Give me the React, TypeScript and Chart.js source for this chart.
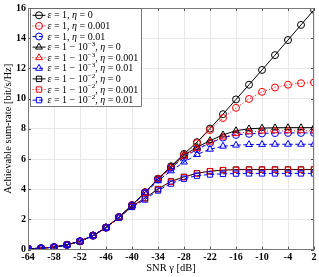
import React, { useEffect, useRef } from 'react';
import { Chart, registerables } from 'chart.js';

Chart.register(...registerables);

const snrDb = [-64, -61, -58, -55, -52, -49, -46, -43, -40, -37, -34, -31, -28, -25, -22, -19, -16, -13, -10, -7, -4, -1, 2];
const xTicks = [-64, -58, -52, -46, -40, -34, -28, -22, -16, -10, -4, 2];
const yTicks = [0, 2, 4, 6, 8, 10, 12, 14, 16];

const eps1Eta0 = [0.06, 0.10, 0.17, 0.32, 0.56, 0.93, 1.46, 2.16, 2.95, 3.80, 4.70, 5.52, 6.34, 7.12, 8.02, 8.97, 9.95, 10.92, 11.90, 12.88, 13.88, 14.88, 15.88];
const eps1Eta0001 = [0.06, 0.10, 0.17, 0.32, 0.56, 0.93, 1.46, 2.16, 2.95, 3.80, 4.69, 5.45, 6.26, 7.05, 7.92, 8.72, 9.39, 9.98, 10.45, 10.74, 10.92, 11.02, 11.07];
const eps1Eta001 = [0.06, 0.10, 0.17, 0.32, 0.56, 0.93, 1.46, 2.16, 2.94, 3.78, 4.65, 5.42, 6.10, 6.65, 7.05, 7.42, 7.60, 7.67, 7.70, 7.72, 7.73, 7.73, 7.73];
const eps3Eta0 = [0.06, 0.10, 0.17, 0.32, 0.56, 0.93, 1.46, 2.16, 2.95, 3.79, 4.68, 5.50, 6.25, 6.78, 7.22, 7.60, 7.88, 8.00, 8.05, 8.07, 8.08, 8.08, 8.08];
const eps3Eta0001 = [0.06, 0.10, 0.17, 0.32, 0.56, 0.93, 1.46, 2.16, 2.95, 3.79, 4.67, 5.45, 6.18, 6.70, 7.12, 7.45, 7.68, 7.80, 7.85, 7.87, 7.87, 7.87, 7.87];
const eps3Eta001 = [0.06, 0.10, 0.17, 0.32, 0.56, 0.93, 1.46, 2.15, 2.93, 3.75, 4.56, 5.22, 5.80, 6.30, 6.65, 6.85, 6.92, 6.96, 6.97, 6.98, 6.98, 6.98, 6.98];
const eps2Eta0 = [0.06, 0.10, 0.17, 0.32, 0.56, 0.93, 1.46, 2.14, 2.87, 3.42, 4.02, 4.52, 4.82, 5.06, 5.20, 5.27, 5.30, 5.31, 5.31, 5.31, 5.31, 5.31, 5.31];
const eps2Eta0001 = [0.06, 0.10, 0.17, 0.32, 0.56, 0.93, 1.46, 2.14, 2.86, 3.40, 4.00, 4.50, 4.80, 5.05, 5.19, 5.26, 5.29, 5.30, 5.30, 5.30, 5.30, 5.30, 5.30];
const eps2Eta001 = [0.06, 0.10, 0.17, 0.32, 0.56, 0.93, 1.46, 2.13, 2.83, 3.32, 3.92, 4.38, 4.70, 4.90, 4.98, 5.02, 5.04, 5.05, 5.05, 5.05, 5.05, 5.05, 5.05];

const seriesLabels = [
  'ε = 1, η = 0',
  'ε = 1, η = 0.001',
  'ε = 1, η = 0.01',
  'ε = 1 − 10^−3, η = 0',
  'ε = 1 − 10^−3, η = 0.001',
  'ε = 1 − 10^−3, η = 0.01',
  'ε = 1 − 10^−2, η = 0',
  'ε = 1 − 10^−2, η = 0.001',
  'ε = 1 − 10^−2, η = 0.01',
];
const seriesData = [eps1Eta0, eps1Eta0001, eps1Eta001, eps3Eta0, eps3Eta0001, eps3Eta001, eps2Eta0, eps2Eta0001, eps2Eta001];
const seriesColors = ['#000000', '#ff0000', '#0000ff', '#000000', '#ff0000', '#0000ff', '#000000', '#ff0000', '#0000ff'];
const seriesDash = [[], [1, 2], [4, 2.5], [], [1, 2], [4, 2.5], [], [1, 2], [4, 2.5]];
const seriesMarker = ['circle', 'circle', 'circle', 'triangle', 'triangle', 'triangle', 'rect', 'rect', 'rect'];
const markerRadius: Record<string, number> = { circle: 3.5, triangle: 3.9, rect: 3.8 };

const SERIF = '"Liberation Serif", "Times New Roman", serif';

function drawMarker(ctx: CanvasRenderingContext2D, style: string, x: number, y: number, r: number) {
  ctx.beginPath();
  if (style === 'circle') {
    ctx.arc(x, y, r, 0, Math.PI * 2);
  } else if (style === 'triangle') {
    const a = -Math.PI / 2;
    for (let k = 0; k < 3; k++) {
      const ang = a + (k * 2 * Math.PI) / 3;
      const px = x + Math.cos(ang) * r;
      const py = y + Math.sin(ang) * r;
      if (k === 0) ctx.moveTo(px, py); else ctx.lineTo(px, py);
    }
    ctx.closePath();
  } else {
    const s = r * Math.SQRT1_2;
    ctx.rect(x - s, y - s, 2 * s, 2 * s);
  }
  ctx.stroke();
}

type Seg = { t: string; kind: 'n' | 'i' | 's' };
function parseLabel(label: string): Seg[] {
  const segs: Seg[] = [];
  let i = 0;
  let buf = '';
  const flush = () => { if (buf) { segs.push({ t: buf, kind: 'n' }); buf = ''; } };
  while (i < label.length) {
    const c = label[i];
    if (c === 'ε' || c === 'η') {
      flush();
      segs.push({ t: c, kind: 'i' });
      i++;
    } else if (c === '^') {
      flush();
      let j = i + 1;
      let sup = '';
      while (j < label.length && label[j] !== ',') { sup += label[j]; j++; }
      segs.push({ t: sup, kind: 's' });
      i = j;
    } else {
      buf += c;
      i++;
    }
  }
  flush();
  return segs;
}

const FS = 10;
function segFont(kind: string) {
  if (kind === 'i') return `italic ${FS}px ${SERIF}`;
  if (kind === 's') return `${FS * 0.7}px ${SERIF}`;
  return `${FS}px ${SERIF}`;
}
function measureSegs(ctx: CanvasRenderingContext2D, segs: Seg[]) {
  let w = 0;
  for (const s of segs) { ctx.font = segFont(s.kind); w += ctx.measureText(s.t).width; }
  return w;
}

const framePlugin = {
  id: 'frameAndLegend',
  afterDraw(chart: any) {
    const { ctx, chartArea } = chart;
    const { left, right, top, bottom } = chartArea;
    ctx.save();
    ctx.strokeStyle = '#262626';
    ctx.lineWidth = 0.8;
    const xs = chart.scales.x;
    const ys = chart.scales.y;
    ctx.beginPath();
    for (const v of xTicks) {
      const px = Math.round(xs.getPixelForValue(v)) + 0.5;
      ctx.moveTo(px, bottom); ctx.lineTo(px, bottom - 3);
      ctx.moveTo(px, top); ctx.lineTo(px, top + 3);
    }
    for (const v of yTicks) {
      const py = Math.round(ys.getPixelForValue(v)) + 0.5;
      ctx.moveTo(left, py); ctx.lineTo(left + 3, py);
      ctx.moveTo(right, py); ctx.lineTo(right - 3, py);
    }
    ctx.stroke();
    ctx.strokeStyle = '#7a7a7a';
    ctx.lineWidth = 1;
    ctx.strokeRect(Math.round(left) + 0.5, Math.round(top) + 0.5, Math.round(right - left) - 1, Math.round(bottom - top) - 1);

    const parsed = seriesLabels.map(parseLabel);
    const maxW = Math.max(...parsed.map((p) => measureSegs(ctx, p)));
    const rowH = 10.6;
    const lineW = 13;
    const padX = 2;
    const padY = 1.5;
    const gap = 2;
    const bx = Math.round(left + 2) + 0.5;
    const by = Math.round(top) + 0.5;
    const bw = Math.round(padX + lineW + gap + maxW + 3);
    const bh = Math.round(padY * 2 + rowH * seriesLabels.length);
    ctx.fillStyle = '#ffffff';
    ctx.fillRect(bx, by, bw, bh);
    ctx.strokeStyle = '#555555';
    ctx.lineWidth = 0.8;
    ctx.strokeRect(bx, by, bw, bh);

    seriesLabels.forEach((_, i) => {
      const cy = by + padY + rowH * (i + 0.5);
      const x0 = bx + padX;
      ctx.strokeStyle = seriesColors[i];
      ctx.lineWidth = 1;
      ctx.setLineDash(seriesDash[i]);
      ctx.beginPath();
      ctx.moveTo(x0, cy); ctx.lineTo(x0 + lineW, cy);
      ctx.stroke();
      ctx.setLineDash([]);
      drawMarker(ctx, seriesMarker[i], x0 + lineW / 2, cy, markerRadius[seriesMarker[i]]);
      let tx = x0 + lineW + gap;
      ctx.fillStyle = '#000000';
      ctx.textBaseline = 'middle';
      ctx.textAlign = 'left';
      for (const s of parsed[i]) {
        ctx.font = segFont(s.kind);
        ctx.fillText(s.t, tx, s.kind === 's' ? cy - 3 : cy + 0.5);
        tx += ctx.measureText(s.t).width;
      }
    });
    ctx.restore();
  },
};

export default function App() {
  const ref = useRef<HTMLCanvasElement | null>(null);
  useEffect(() => {
    if (!ref.current) return;
    const datasets = seriesData.map((arr, i) => ({
      label: seriesLabels[i],
      data: snrDb.map((x, k) => ({ x, y: arr[k] })),
      borderColor: seriesColors[i],
      borderWidth: 1,
      borderDash: seriesDash[i],
      pointStyle: seriesMarker[i],
      pointRadius: markerRadius[seriesMarker[i]],
      pointBorderWidth: 1,
      pointBorderColor: seriesColors[i],
      pointBackgroundColor: 'rgba(0,0,0,0)',
      fill: false,
      showLine: true,
      tension: 0,
      order: seriesData.length - i,
    }));
    const tickFont = { family: SERIF, size: 10, weight: 'bold' as const };
    const chart = new Chart(ref.current, {
      type: 'line',
      data: { datasets },
      options: {
        animation: false,
        responsive: false,
        devicePixelRatio: 1,
        layout: { padding: { top: 5, right: 5, left: 0, bottom: 0 } },
        plugins: { legend: { display: false }, tooltip: { enabled: false } },
        scales: {
          x: {
            type: 'linear',
            min: -64,
            max: 2,
            afterBuildTicks: (s: any) => { s.ticks = xTicks.map((v) => ({ value: v })); },
            afterFit: (s: any) => { s.height = 27.3; },
            ticks: { font: tickFont, color: '#000', padding: 2, maxRotation: 0, autoSkip: false },
            grid: { color: '#e8e8e8', drawTicks: false },
            border: { display: false },
            title: { display: true, text: 'SNR γ [dB]', font: { family: SERIF, size: 10.5 }, color: '#000', padding: { top: 0, bottom: 2 } },
          },
          y: {
            type: 'linear',
            min: 0,
            max: 16,
            afterBuildTicks: (s: any) => { s.ticks = yTicks.map((v) => ({ value: v })); },
            afterFit: (s: any) => { s.width = 28; },
            ticks: { font: tickFont, color: '#000', padding: 2 },
            grid: { color: '#e8e8e8', drawTicks: false },
            border: { display: false },
            title: { display: true, text: 'Achievable sum-rate [bit/s/Hz]', font: { family: SERIF, size: 10.5 }, color: '#000', padding: { top: 2, bottom: 0 } },
          },
        },
      },
      plugins: [framePlugin],
    });
    return () => chart.destroy();
  }, []);
  return (
    <div style={{ position: 'absolute', left: 0, top: 0, width: 319, height: 277, background: '#fff' }}>
      <canvas ref={ref} width={319} height={277} style={{ display: 'block', width: 319, height: 277 }} />
    </div>
  );
}
